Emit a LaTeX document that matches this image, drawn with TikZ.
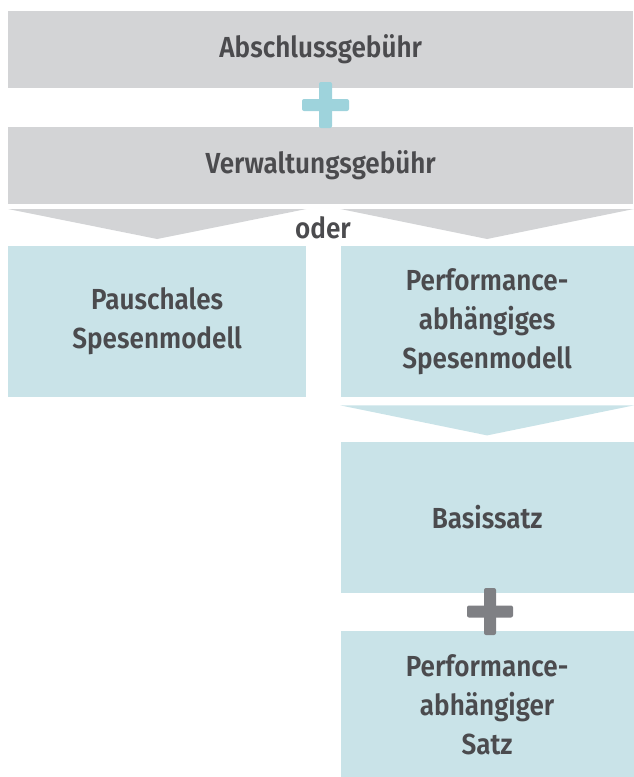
\documentclass[tikz,border=0pt]{standalone}
\usepackage{fontspec}
\setmainfont{Fira Sans}[FakeStretch=0.9, BoldFont={Fira Sans SemiBold}]
\usetikzlibrary{positioning}

\definecolor{feegray}{HTML}{D3D4D6}
\definecolor{modelblue}{HTML}{C9E3E8}
\definecolor{plusblue}{HTML}{9ED3DC}
\definecolor{plusgray}{HTML}{7F8084}
\definecolor{textgray}{HTML}{4B4B4E}

\begin{document}
\begin{tikzpicture}[x=1pt, y=-1pt, node distance=38pt]
  \tikzstyle{fee}=[fill=feegray, text=textgray, font=\bfseries\fontsize{29}{39}\selectfont, align=center, inner sep=0pt, minimum width=625pt, minimum height=77pt]
  \tikzstyle{model}=[fill=modelblue, text=textgray, font=\bfseries\fontsize{29}{39}\selectfont, align=center, inner sep=0pt, minimum width=293pt, minimum height=151pt]
  \tikzstyle{plusbar}=[rounded corners=2pt]

  \useasboundingbox (0,0) rectangle (633,777);

  % fees on top
  \node[fee, anchor=north west] (abschluss) at (8,11) {Abschlussgebühr};
  \node[fee, below=38pt of abschluss] (verwaltung) {Verwaltungsgebühr};

  % the two models
  \node[model, minimum width=298pt, anchor=north west] (pauschal) at (8,246) {Pauschales\\Spesenmodell};
  \node[model, right=34pt of pauschal] (perf) {Performance-\\abhängiges\\Spesenmodell};
  \node[model, below=44pt of perf] (basis) {Basissatz};
  \node[model, minimum height=147pt, below=38pt of basis] (satz) {Performance-\\abhängiger\\Satz};

  \node[text=textgray, font=\bfseries\fontsize{29}{35}\selectfont, inner sep=0pt] (oder) at (323,228) {oder};

  % chevrons
  \fill[feegray] ([yshift=37pt]pauschal.north west) -- ([yshift=37pt]pauschal.north east) -- ([yshift=7pt]pauschal.north) -- cycle;
  \fill[feegray] ([yshift=37pt]perf.north west) -- ([yshift=37pt]perf.north east) -- ([yshift=7pt]perf.north) -- cycle;
  \fill[modelblue] ([yshift=36pt]basis.north west) -- ([yshift=36pt]basis.north east) -- ([yshift=6pt]basis.north) -- cycle;

  % plus signs
  \coordinate (plusA) at (325.5,105);
  \coordinate (plusB) at (490,611.5);
  \fill[plusblue, plusbar] (plusA) ++(-23.5,-6) rectangle ++(47,12);
  \fill[plusblue, plusbar] (plusA) ++(-6.5,-23) rectangle ++(13,46);
  \fill[plusgray, plusbar] (plusB) ++(-23,-6) rectangle ++(46,12);
  \fill[plusgray, plusbar] (plusB) ++(-6,-23.5) rectangle ++(12,47);
\end{tikzpicture}
\end{document}
